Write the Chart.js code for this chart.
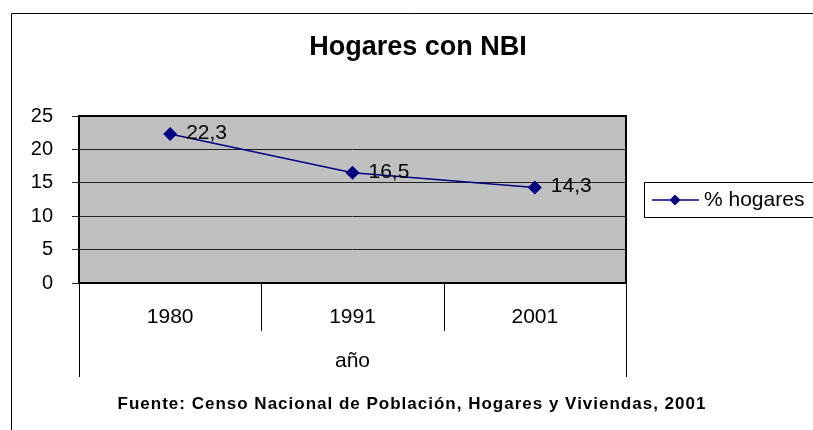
<!DOCTYPE html>
<html>
<head>
<meta charset="utf-8">
<script src="https://cdn.jsdelivr.net/npm/chart.js@4"></script>
<style>
body{margin:0;background:#fff}
</style>
</head>
<body>
<canvas id="myChart" width="813" height="430"></canvas>
<script>
var years = ['1980', '1991', '2001']
var hogares = [22.3, 16.5, 14.3]
var yTicks = [0, 5, 10, 15, 20, 25]
var seriesName = '% hogares'
var titleText = 'Hogares con NBI'
var axisTitle = 'año'
var sourceText = 'Fuente: Censo Nacional de Población, Hogares y Viviendas, 2001'

var navy = '#000080'
var font = 'Arial, "Liberation Sans", sans-serif'

// extra drawing: gray plot area, frame, titles, labels, legend
var extras = {
  id: 'extras',
  beforeDraw: function(chart){
    var ctx = chart.ctx, a = chart.chartArea
    ctx.save()
    ctx.fillStyle = '#c0c0c0'
    ctx.fillRect(a.left, a.top, a.right - a.left, a.bottom - a.top)
    ctx.restore()
  },
  afterDatasetsDraw: function(chart){
    var ctx = chart.ctx, a = chart.chartArea
    ctx.save()
    // plot border
    ctx.strokeStyle = '#000'
    ctx.lineWidth = 2
    ctx.strokeRect(a.left, a.top, a.right - a.left, a.bottom - a.top)
    // category separators
    ctx.lineWidth = 1
    var step = (a.right - a.left) / years.length
    for (var i = 0; i <= years.length; i++) {
      var px = Math.round(a.left + step * i) + 0.5
      var end = (i == 0 || i == years.length) ? 377 : 331
      ctx.beginPath()
      ctx.moveTo(px, a.bottom)
      ctx.lineTo(px, end)
      ctx.stroke()
    }
    // outer frame
    ctx.beginPath()
    ctx.moveTo(11.5, 440)
    ctx.lineTo(11.5, 13.5)
    ctx.lineTo(820, 13.5)
    ctx.stroke()
    // texts
    ctx.fillStyle = '#000'
    ctx.textAlign = 'center'
    ctx.textBaseline = 'middle'
    ctx.font = 'bold 27px ' + font
    ctx.fillText(titleText, 418, 48)
    ctx.font = '21px ' + font
    ctx.fillText(axisTitle, (a.left + a.right) / 2, 361)
    ctx.font = 'bold 17px ' + font
    ctx.letterSpacing = '1px'
    ctx.fillText(sourceText, 412, 404)
    ctx.letterSpacing = '0px'
    // data labels
    ctx.font = '21px ' + font
    ctx.textAlign = 'left'
    var meta = chart.getDatasetMeta(0)
    meta.data.forEach(function(p, i){
      ctx.fillText(String(hogares[i]).replace('.', ','), p.x + 16, p.y - 1)
    })
    // legend
    ctx.lineWidth = 1
    ctx.strokeRect(644.5, 182.5, 180, 35)
    ctx.strokeStyle = navy
    ctx.lineWidth = 1.5
    ctx.beginPath()
    ctx.moveTo(652, 200)
    ctx.lineTo(699, 200)
    ctx.stroke()
    ctx.fillStyle = navy
    ctx.beginPath()
    ctx.moveTo(675, 194.5)
    ctx.lineTo(680.5, 200)
    ctx.lineTo(675, 205.5)
    ctx.lineTo(669.5, 200)
    ctx.closePath()
    ctx.fill()
    ctx.fillStyle = '#000'
    ctx.fillText(seriesName, 704, 200)
    ctx.restore()
  }
}

chart = new Chart('myChart', {
  type: 'line',
  data: {
    labels: years,
    datasets: [{
      label: seriesName,
      data: hogares,
      borderColor: navy,
      backgroundColor: navy,
      borderWidth: 1.5,
      pointStyle: 'rectRot',
      pointRadius: 6,
      pointHoverRadius: 6,
      tension: 0
    }]
  },
  options: {
    responsive: false,
    animation: false,
    events: [],
    layout: { padding: { top: 116, right: 187, left: 0, bottom: 0 } },
    plugins: {
      legend: { display: false },
      title: { display: false },
      tooltip: { enabled: false }
    },
    scales: {
      x: {
        offset: true,
        grid: { display: false, drawTicks: false },
        border: { display: false },
        ticks: { color: '#000', padding: 22, font: { size: 21, family: font } },
        afterFit: function(s){ s.height = 147 }
      },
      y: {
        min: 0,
        max: 25,
        afterBuildTicks: function(s){ s.ticks = yTicks.map(function(v){ return { value: v } }) },
        grid: { color: '#222', lineWidth: 1, tickLength: 7, drawTicks: true },
        border: { display: false },
        ticks: { color: '#000', padding: 19, font: { size: 20, family: font } },
        afterFit: function(s){ s.width = 79 }
      }
    }
  },
  plugins: [extras]
})
</script>
</body>
</html>
